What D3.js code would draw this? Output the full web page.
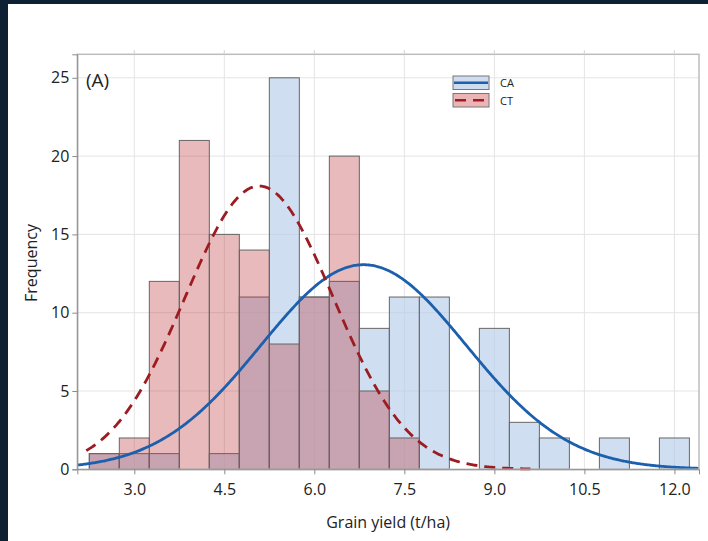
<!DOCTYPE html>
<html>
<head>
<meta charset="utf-8">
<script src="https://cdn.jsdelivr.net/npm/d3@7/dist/d3.min.js"></script>
<style>
    body{margin:0;padding:0;background:#0e2034;}
    .canvas{width:708px;height:541px;}
    text{font-family:'Open Sans','Noto Sans',sans-serif;fill:#222;}
</style>
</head>
<body>
<div class="canvas" id="canvas"></div>
<script>
//Histogram bins (t/ha), width 0.5
var binCenters = [2.5,3.0,3.5,4.0,4.5,5.0,5.5,6.0,6.5,7.0,7.5,8.0,8.5,9.0,9.5,10.0,10.5,11.0,11.5,12.0];
var caCounts = [1,1,1,0,1,11,25,11,12,9,11,11,0,9,3,2,0,2,0,2];
var ctCounts = [1,2,12,21,15,14,8,11,20,5,2,0,0,0,0,0,0,0,0,0];
var binWidth = 0.5;

//Fitted normal curves
var caFit = {mean:6.82, sd:1.71, n:112};
var ctFit = {mean:5.08, sd:1.235, n:112};

var xTicks = [3.0,4.5,6.0,7.5,9.0,10.5,12.0];
var yTicks = [0,5,10,15,20,25];

var outerWidth = 708, outerHeight = 541;
var m = {t:54.3,l:77.3,r:699,b:469.3};

var svg = d3.select('.canvas')
    .append('svg')
    .attr('width',outerWidth)
    .attr('height',outerHeight);

//dark frame + white page
svg.append('rect').attr('width',outerWidth).attr('height',outerHeight).style('fill','#0e2034');
svg.append('rect').attr('x',8).attr('y',4).attr('width',outerWidth-8).attr('height',outerHeight-4).style('fill','#fff');

var scaleX = d3.scaleLinear().domain([2.05,12.41]).range([m.l,m.r]);
var scaleY = d3.scaleLinear().domain([0,26.5]).range([m.b,m.t]);

//gridlines
svg.append('g').selectAll('line').data(xTicks).enter().append('line')
    .attr('x1',function(d){return scaleX(d)}).attr('x2',function(d){return scaleX(d)})
    .attr('y1',m.t-4).attr('y2',m.b)
    .style('stroke','#e4e4e4').style('stroke-width',1);
svg.append('g').selectAll('line').data(yTicks.slice(1)).enter().append('line')
    .attr('x1',m.l).attr('x2',m.r)
    .attr('y1',function(d){return scaleY(d)}).attr('y2',function(d){return scaleY(d)})
    .style('stroke','#e4e4e4').style('stroke-width',1);

//bars
var bars = svg.append('g');
function drawBars(counts,fill){
    bars.append('g').selectAll('rect')
        .data(binCenters.map(function(c,i){return {c:c,v:counts[i]}}).filter(function(d){return d.v>0}))
        .enter().append('rect')
        .attr('x',function(d){return scaleX(d.c-binWidth/2)})
        .attr('width',function(d){return scaleX(d.c+binWidth/2)-scaleX(d.c-binWidth/2)})
        .attr('y',function(d){return scaleY(d.v)})
        .attr('height',function(d){return scaleY(0)-scaleY(d.v)})
        .style('fill',fill)
        .style('stroke','#666')
        .style('stroke-width',1);
}
drawBars(caCounts,'rgba(182,205,234,0.65)');
drawBars(ctCounts,'rgba(189,52,60,0.34)');

//normal curves
function pdfPoints(fit,from,to){
    var pts = [];
    for(var x=from;x<=to+1e-9;x+=0.02){
        var z = (x-fit.mean)/fit.sd;
        pts.push([x, fit.n*binWidth*Math.exp(-z*z/2)/(fit.sd*Math.sqrt(2*Math.PI))]);
    }
    return pts;
}
var line = d3.line()
    .x(function(d){return scaleX(d[0])})
    .y(function(d){return scaleY(d[1])})
    .curve(d3.curveBasis);

svg.append('path').datum(pdfPoints(caFit,2.05,12.41)).attr('d',line)
    .style('fill','none').style('stroke','#1b5fad').style('stroke-width',2.8);
svg.append('path').datum(pdfPoints(ctFit,2.2,9.6)).attr('d',line)
    .style('fill','none').style('stroke','#9c1c22').style('stroke-width',2.8)
    .style('stroke-dasharray','11,7');

//frame
svg.append('rect').attr('x',m.l).attr('y',m.t).attr('width',m.r-m.l).attr('height',m.b-m.t)
    .style('fill','none').style('stroke','#bdbdbd').style('stroke-width',1.5);

//axes
var axisX = d3.axisBottom(scaleX).tickValues(xTicks).tickFormat(d3.format('.1f')).tickSize(5).tickPadding(9);
var axisY = d3.axisLeft(scaleY).tickValues(yTicks).tickSize(5).tickPadding(3);
var gx = svg.append('g').attr('transform','translate(0,'+m.b+')').call(axisX);
var gy = svg.append('g').attr('transform','translate('+m.l+',0)').call(axisY);
[gx,gy].forEach(function(g){
    g.select('.domain').style('stroke','#8a8a8a');
    g.selectAll('.tick line').style('stroke','#8a8a8a');
    g.selectAll('.tick text').style('font-size','16px').style('fill','#222')
        .style('font-family',"'Open Sans','Noto Sans',sans-serif");
});

//top ticks
svg.append('g').selectAll('line').data(xTicks).enter().append('line')
    .attr('x1',function(d){return scaleX(d)}).attr('x2',function(d){return scaleX(d)})
    .attr('y1',m.t-4).attr('y2',m.t)
    .style('stroke','#d8d8d8');

//labels
svg.append('text').attr('x',(m.l+m.r)/2).attr('y',528).attr('text-anchor','middle')
    .style('font-size','16px').text('Grain yield (t/ha)');
svg.append('text').attr('transform','translate(37,263) rotate(-90)').attr('text-anchor','middle')
    .style('font-size','16px').text('Frequency');
svg.append('text').attr('x',86).attr('y',87).style('font-size','19px').text('(A)');

//legend
var legend = [{k:'CA',fill:'#cedcf0',stroke:'#1b5fad',dash:null},
              {k:'CT',fill:'#ebb5b8',stroke:'#a01c22',dash:'9,6'}];
var lg = svg.append('g').selectAll('g').data(legend).enter().append('g')
    .attr('transform',function(d,i){return 'translate(453,'+(76+i*17.5)+')'});
lg.append('rect').attr('width',36).attr('height',13.5)
    .style('fill',function(d){return d.fill}).style('stroke','#777').style('stroke-width',1);
lg.append('line').attr('x1',1).attr('x2',35).attr('y1',6.75).attr('y2',6.75)
    .style('stroke',function(d){return d.stroke}).style('stroke-width',2.4)
    .style('stroke-dasharray',function(d){return d.dash ? '11,7' : null})
    .style('stroke-dashoffset',function(d){return d.dash ? -1 : null});
lg.append('text').attr('x',47).attr('y',11).style('font-size','11px').text(function(d){return d.k});
</script>
</body>
</html>
